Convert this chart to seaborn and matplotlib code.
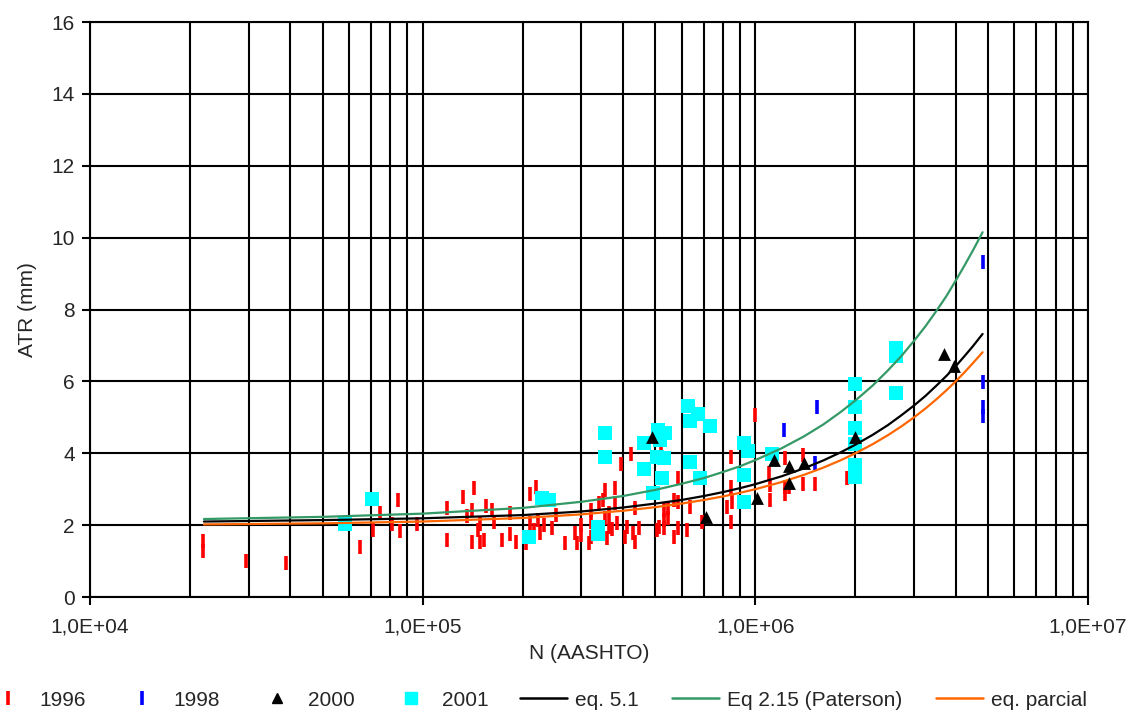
import numpy as np
import pandas as pd
import matplotlib
matplotlib.use("Agg")
import matplotlib.pyplot as plt
import seaborn as sns
from matplotlib.lines import Line2D
from matplotlib.ticker import FuncFormatter, LogLocator, FixedLocator

# ---------------- data ----------------
n_1996 = [2.19e4, 2.19e4, 2.94e4, 3.88e4, 6.49e4, 7.08e4, 7.45e4, 8.09e4, 8.43e4, 8.56e4, 9.6e4,
          1.18e5, 1.18e5, 1.32e5, 1.36e5, 1.41e5, 1.41e5, 1.43e5, 1.47e5, 1.49e5, 1.49e5, 1.53e5,
          1.55e5, 1.62e5, 1.64e5, 1.73e5, 1.83e5, 1.83e5, 1.91e5, 2.05e5, 2.10e5, 2.10e5, 2.16e5,
          2.19e5, 2.22e5, 2.26e5, 2.32e5, 2.45e5, 2.52e5,
          2.67e5, 2.86e5, 2.90e5, 2.99e5, 2.99e5, 3.16e5, 3.2e5, 3.2e5, 3.2e5, 3.38e5, 3.48e5,
          3.52e5, 3.52e5, 3.57e5, 3.62e5, 3.62e5, 3.72e5, 3.78e5, 3.78e5, 3.83e5, 3.94e5, 4.05e5,
          4.1e5, 4.22e5, 4.28e5, 4.34e5, 4.34e5, 4.46e5,
          5.05e5, 5.12e5, 5.19e5, 5.32e5, 5.46e5, 5.32e5, 5.46e5, 5.32e5, 5.71e5, 5.71e5, 5.87e5,
          5.87e5, 5.87e5, 6.21e5, 6.38e5, 6.93e5, 8.19e5, 8.42e5, 8.42e5, 8.42e5, 8.53e5, 9.96e5,
          1.10e6, 1.11e6, 1.11e6, 1.23e6, 1.23e6, 1.23e6, 1.26e6, 1.39e6, 1.39e6, 1.51e6, 1.88e6]
y_1996 = [1.56, 1.28, 1.01, 0.95, 1.40, 1.86, 2.34, 2.03, 2.70, 1.85, 2.02,
          2.47, 1.59, 2.79, 2.25, 2.42, 1.52, 3.02, 1.86, 2.02, 1.52, 1.59,
          2.52, 2.42, 2.09, 1.59, 2.33, 1.74, 1.54, 1.49, 2.86, 2.05, 1.86,
          3.07, 2.14, 1.77, 2.00, 1.91, 2.28,
          1.51, 1.79, 1.51, 2.00, 1.72, 1.51, 2.42, 2.10, 1.68, 2.61, 2.70,
          2.98, 2.19, 1.63, 2.33, 1.96, 1.88, 3.02, 2.61, 2.05, 3.70, 1.68,
          1.96, 3.98, 1.77, 2.47, 1.54, 1.91,
          1.86, 1.96, 4.14, 2.14, 2.47, 2.42, 2.19, 1.91, 2.70, 1.68, 3.30,
          2.65, 1.91, 1.86, 2.51, 2.10, 2.51, 3.90, 3.07, 2.10, 2.65, 5.06,
          3.44, 3.12, 2.70, 3.86, 3.07, 2.88, 3.05, 3.95, 3.14, 3.14, 3.30]

n_1998 = [1.22e6, 1.53e6, 1.51e6, 4.82e6, 4.82e6, 4.82e6, 4.82e6]
y_1998 = [4.65, 5.30, 3.74, 9.32, 5.99, 5.30, 5.04]

n_2000 = [4.89e5, 7.11e5, 1.01e6, 1.14e6, 1.26e6, 1.26e6, 1.40e6, 2.0e6, 3.70e6, 3.96e6]
y_2000 = [4.46, 2.22, 2.75, 3.81, 3.65, 3.16, 3.72, 4.46, 6.76, 6.43]

n_2001 = [5.86e4, 7.03e4, 2.08e5, 2.28e5, 2.4e5, 3.36e5, 3.36e5, 3.52e5, 3.52e5, 4.63e5, 4.63e5,
          5.1e5, 5.35e5, 5.16e5, 5.05e5, 5.3e5, 5.25e5, 4.91e5, 6.28e5, 6.73e5, 6.36e5, 7.31e5,
          6.36e5, 6.8e5, 9.25e5, 9.53e5, 9.25e5, 9.25e5, 1.12e6, 2.0e6, 2.0e6, 2.0e6, 2.0e6,
          2.0e6, 2.0e6, 2.65e6, 2.65e6, 2.65e6]
y_2001 = [2.02, 2.72, 1.68, 2.75, 2.70, 1.95, 1.75, 4.57, 3.90, 4.29, 3.57,
          4.65, 4.57, 4.37, 3.90, 3.86, 3.30, 2.90, 5.31, 5.09, 4.91, 4.76,
          3.77, 3.30, 4.29, 4.07, 3.39, 2.63, 3.97, 5.92, 5.30, 4.69, 4.25,
          3.67, 3.35, 6.92, 6.70, 5.69]

n_curve = [2.2e4, 5e4, 1e5, 2e5, 3e5, 4e5, 5e5, 6e5, 7e5, 8e5, 9e5, 1e6, 1.2e6, 1.4e6,
           1.6e6, 1.8e6, 2e6, 2.25e6, 2.5e6, 2.75e6, 3e6, 3.25e6, 3.5e6, 3.75e6, 4e6,
           4.25e6, 4.5e6, 4.82e6]
y_eq51 = [2.10, 2.14, 2.19, 2.28, 2.38, 2.49, 2.60, 2.70, 2.81, 2.92, 3.03, 3.14, 3.36, 3.58,
          3.80, 4.02, 4.24, 4.51, 4.78, 5.06, 5.33, 5.60, 5.88, 6.15, 6.42,
          6.70, 6.97, 7.32]
y_paterson = [2.17, 2.23, 2.32, 2.48, 2.65, 2.81, 2.98, 3.15, 3.31, 3.48, 3.64, 3.81, 4.14, 4.47,
              4.80, 5.14, 5.47, 5.88, 6.30, 6.71, 7.13, 7.54, 7.96, 8.37, 8.80,
              9.22, 9.63, 10.15]
y_parcial = [2.02, 2.05, 2.10, 2.20, 2.30, 2.40, 2.50, 2.60, 2.70, 2.80, 2.90, 3.00, 3.20, 3.40,
             3.60, 3.80, 4.00, 4.25, 4.50, 4.75, 5.00, 5.25, 5.50, 5.75, 6.00,
             6.25, 6.50, 6.81]

labels = ["1996", "1998", "2000", "2001", "eq. 5.1", "Eq 2.15 (Paterson)", "eq. parcial"]
x_ticks = [1e4, 1e5, 1e6, 1e7]
y_ticks = [0, 2, 4, 6, 8, 10, 12, 14, 16]

# ---------------- style ----------------
sns.set_theme(style="white")
plt.rcParams["font.family"] = ["Liberation Sans", "DejaVu Sans"]
FS = 15

C_RED = "#ff0000"
C_BLUE = "#0000ff"
C_BLACK = "#000000"
C_CYAN = "#00ffff"
C_GREEN = "#339966"
C_ORANGE = "#ff6600"

fig = plt.figure(figsize=(11.31, 7.24), dpi=100)
ax = fig.add_axes([0.0796, 0.1754, 0.8824, 0.7942])
ax.set_xscale("log")
ax.set_xlim(1e4, 1e7)
ax.set_ylim(0, 16)

# grid
ax.set_axisbelow(True)
ax.xaxis.set_major_locator(FixedLocator(x_ticks))
ax.xaxis.set_minor_locator(LogLocator(base=10, subs=np.arange(2, 10)))
ax.yaxis.set_major_locator(FixedLocator(y_ticks))
ax.grid(True, which="major", axis="both", color="black", linewidth=1.5)
ax.grid(True, which="minor", axis="x", color="black", linewidth=1.5)

# lines
df_c = pd.DataFrame({"N": n_curve, "eq51": y_eq51, "pat": y_paterson, "par": y_parcial})
sns.lineplot(data=df_c, x="N", y="eq51", ax=ax, color=C_BLACK, lw=1.6, sort=False, estimator=None, zorder=4)
sns.lineplot(data=df_c, x="N", y="pat", ax=ax, color=C_GREEN, lw=1.6, sort=False, estimator=None, zorder=4)
sns.lineplot(data=df_c, x="N", y="par", ax=ax, color=C_ORANGE, lw=1.6, sort=False, estimator=None, zorder=4)

# scatter
sns.scatterplot(x=n_1996, y=y_1996, ax=ax, marker="|", s=110, color=C_RED, linewidth=2.6, zorder=3)
sns.scatterplot(x=n_1998, y=y_1998, ax=ax, marker="|", s=110, color=C_BLUE, linewidth=2.6, zorder=3)
sns.scatterplot(x=n_2001, y=y_2001, ax=ax, marker="s", s=95, color=C_CYAN, linewidth=0, zorder=3)
sns.scatterplot(x=n_2000, y=y_2000, ax=ax, marker="^", s=85, color=C_BLACK, linewidth=0, zorder=5)

# axes formatting
ax.xaxis.set_major_formatter(FuncFormatter(lambda v, p: f"{v:.1E}".replace(".", ",")))
ax.xaxis.set_minor_formatter(FuncFormatter(lambda v, p: ""))
ax.tick_params(axis="both", which="major", labelsize=FS, length=6, width=1.5, color="black",
               direction="out", bottom=True, left=True, top=False, right=False)
ax.tick_params(axis="x", which="major", pad=9)
ax.tick_params(axis="y", which="major", pad=5)
ax.tick_params(axis="x", which="minor", length=0)
for sp in ax.spines.values():
    sp.set_color("black")
    sp.set_linewidth(1.5)
ax.set_xlabel("N (AASHTO)", fontsize=FS, labelpad=5)
ax.set_ylabel("ATR (mm)", fontsize=FS, labelpad=10)

# legend (markers group and lines group)
mk_handles = [
    Line2D([], [], ls="none", marker="|", ms=10, mew=2.6, color=C_RED),
    Line2D([], [], ls="none", marker="|", ms=10, mew=2.6, color=C_BLUE),
    Line2D([], [], ls="none", marker="^", ms=7.5, color=C_BLACK),
    Line2D([], [], ls="none", marker="s", ms=8.5, color=C_CYAN),
]
ln_handles = [
    Line2D([], [], color=C_BLACK, lw=1.8),
    Line2D([], [], color=C_GREEN, lw=1.8),
    Line2D([], [], color=C_ORANGE, lw=1.8),
]
leg_y = 1 - 700 / 724
leg1 = fig.legend(mk_handles, labels[:4], loc="center left", bbox_to_anchor=(-0.002, leg_y), ncol=4,
                  frameon=False, fontsize=FS, handlelength=1.0, handletextpad=0.99,
                  columnspacing=2.22, borderpad=0, borderaxespad=0)
leg2 = fig.legend(ln_handles, labels[4:], loc="center left", bbox_to_anchor=(0.4598, leg_y), ncol=3,
                  frameon=False, fontsize=FS, handlelength=2.26, handletextpad=0.38,
                  columnspacing=1.6, borderpad=0, borderaxespad=0)

fig.savefig("out.png", dpi=100, facecolor="white")
